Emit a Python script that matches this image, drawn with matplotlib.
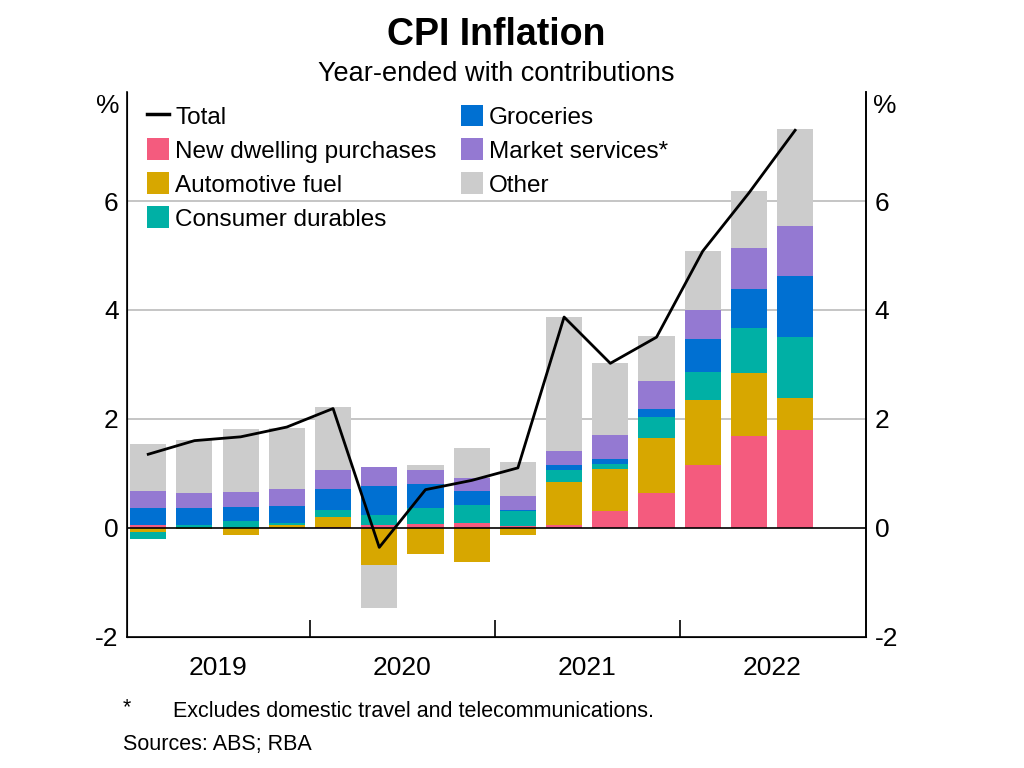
import numpy as np
import matplotlib
matplotlib.use("Agg")
from matplotlib import pyplot as plt
from matplotlib.patches import Patch
from matplotlib.lines import Line2D

plt.rcParams['font.family'] = ['Liberation Sans', 'DejaVu Sans']

# quarterly, Mar 2019 .. Sep 2022
years = ["2019", "2020", "2021", "2022"]
dwelling = [0.06, 0.00, 0.00, 0.00, 0.02, 0.06, 0.07, 0.09, 0.04, 0.06, 0.31, 0.63, 1.15, 1.69, 1.80]
fuel = [-0.08, -0.03, -0.14, 0.06, 0.18, -0.69, -0.49, -0.63, -0.14, 0.78, 0.77, 1.01, 1.20, 1.15, 0.58]
durables = [-0.12, 0.06, 0.13, 0.03, 0.12, 0.18, 0.29, 0.32, 0.27, 0.23, 0.09, 0.39, 0.51, 0.83, 1.12]
groceries = [0.30, 0.30, 0.25, 0.31, 0.40, 0.52, 0.44, 0.26, 0.02, 0.09, 0.09, 0.15, 0.60, 0.72, 1.12]
services = [0.31, 0.28, 0.27, 0.31, 0.35, 0.36, 0.26, 0.25, 0.26, 0.25, 0.44, 0.51, 0.54, 0.75, 0.93]
other = [0.87, 0.98, 1.17, 1.13, 1.14, -0.79, 0.09, 0.55, 0.61, 2.46, 1.32, 0.84, 1.08, 1.04, 1.77]
total = [1.35, 1.60, 1.67, 1.85, 2.19, -0.36, 0.70, 0.87, 1.10, 3.87, 3.02, 3.50, 5.08, 6.15, 7.30]

series = [
    ("New dwelling purchases", dwelling, "#F45B7E"),
    ("Automotive fuel", fuel, "#D7A700"),
    ("Consumer durables", durables, "#00B0A5"),
    ("Groceries", groceries, "#0070D2"),
    ("Market services*", services, "#9479D2"),
    ("Other", other, "#CCCCCC"),
]

fig = plt.figure(figsize=(10.24, 7.68), dpi=100)
ax = fig.add_axes([0.124, 0.171, 0.722, 0.709])

x = np.arange(len(total))
pos = np.zeros(len(x))
neg = np.zeros(len(x))
for name, vals, col in series:
    v = np.array(vals)
    bottom = np.where(v >= 0, pos, neg)
    ax.bar(x, v, bottom=bottom, width=0.78, color=col, zorder=2)
    pos = pos + np.where(v >= 0, v, 0)
    neg = neg + np.where(v < 0, v, 0)

ax.plot(x, total, color="black", lw=2, zorder=3)

ax.set_ylim(-2, 8)
ax.set_xlim(-0.46, 15.54)
for g in [2, 4, 6]:
    ax.axhline(g, color="#BBBBBB", lw=1.2, zorder=1)
ax.axhline(0, color="black", lw=1.2, zorder=2.5)

ax.spines["top"].set_visible(False)
for s in ["left", "right", "bottom"]:
    ax.spines[s].set_linewidth(1.2)

ax.set_yticks([-2, 0, 2, 4, 6])
ax.set_yticklabels(["-2", "0", "2", "4", "6"])
ax.tick_params(axis="y", length=0, labelsize=19, pad=6)

ax.set_xticks([3.5, 7.5, 11.5])
ax.set_xticklabels([])
ax.tick_params(axis="x", which="major", direction="in", length=12, width=1.2)
ax.set_xticks([1.5, 5.5, 9.5, 13.5], minor=True)
ax.set_xticklabels(years, minor=True)
ax.tick_params(axis="x", which="minor", length=0, labelsize=19, pad=14)

ax2 = ax.twinx()
ax2.set_ylim(-2, 8)
ax2.set_yticks([-2, 0, 2, 4, 6])
ax2.set_yticklabels(["-2", "0", "2", "4", "6"])
ax2.tick_params(axis="y", length=0, labelsize=19, pad=6)
ax2.spines["top"].set_visible(False)
ax2.spines["right"].set_linewidth(1.2)

fig.text(0.105, 0.862, "%", fontsize=19, ha="center", va="center")
fig.text(0.864, 0.862, "%", fontsize=19, ha="center", va="center")

handles = [Line2D([0], [0], color="black", lw=2.5)]
labels = ["Total"]
for name, vals, col in series:
    handles.append(Patch(facecolor=col))
    labels.append(name)
leg = ax.legend(handles, labels, ncol=2, loc="upper left", bbox_to_anchor=(0.008, 1.004),
                frameon=False, fontsize=17.5, handlelength=0.9, handleheight=1.0,
                handletextpad=0.25, labelspacing=0.4, columnspacing=1.0, borderaxespad=0.2)

fig.text(0.485, 0.954, "CPI Inflation", fontsize=27, fontweight="bold", ha="center", va="center")
fig.text(0.485, 0.904, "Year-ended with contributions", fontsize=19.5, ha="center", va="center")

fig.text(0.120, 0.078, "*", fontsize=15.5, ha="left", va="center")
fig.text(0.169, 0.074, "Excludes domestic travel and telecommunications.", fontsize=15.5, ha="left", va="center")
fig.text(0.120, 0.031, "Sources: ABS; RBA", fontsize=15.5, ha="left", va="center")

fig.savefig("out.png", dpi=100)
